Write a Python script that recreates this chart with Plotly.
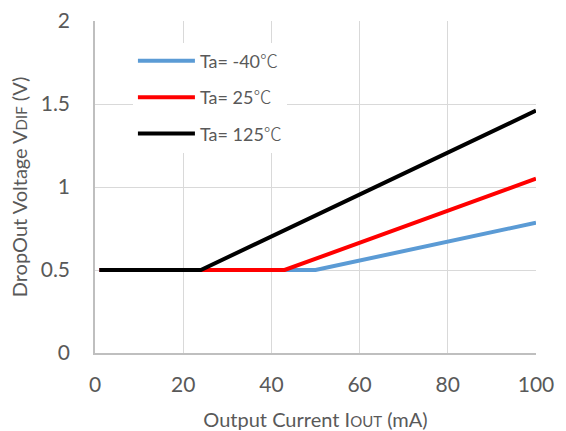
import plotly.graph_objects as go

# Dropout voltage vs. output current at three ambient temperatures
DEG_C = "<span style='font-family:Noto Sans CJK JP;font-weight:300'>℃</span>"

series_names = ["Ta= -40" + DEG_C, "Ta= 25" + DEG_C, "Ta= 125" + DEG_C]
current_m40 = [1, 50, 100]
current_25 = [1, 43, 100]
current_125 = [1, 24, 100]
dropout_m40 = [0.5, 0.5, 0.785]
dropout_25 = [0.5, 0.5, 1.05]
dropout_125 = [0.5, 0.5, 1.46]
line_colors = ["#5b9bd5", "#ff0000", "#000000"]

x_ticks = [0, 20, 40, 60, 80, 100]
y_ticks = [0, 0.5, 1, 1.5, 2]
y_tick_text = ["0", "0.5", "1", "1.5", "2"]

FONT = "Lato, 'Noto Sans CJK JP', sans-serif"
GRID = "#d9d9d9"
TEXT = "#595959"

fig = go.Figure()
for name, xs, ys, color in zip(
    series_names,
    [current_m40, current_25, current_125],
    [dropout_m40, dropout_25, dropout_125],
    line_colors,
):
    fig.add_trace(go.Scatter(
        x=xs, y=ys, mode="lines", name=name, legendgroup=name,
        line=dict(color=color, width=4),
    ))

fig.update_layout(
    width=566, height=431,
    margin=dict(l=94.5, r=30, t=21, b=78),
    paper_bgcolor="white", plot_bgcolor="white",
    font=dict(family=FONT, color=TEXT),
    legend=dict(
        x=0.086, y=0.935, xanchor="left", yanchor="top",
        bgcolor="white", font=dict(size=18, color=TEXT),
        itemwidth=57, tracegroupgap=10,
    ),
    xaxis=dict(
        range=[0, 100], tickvals=x_ticks, showgrid=True, gridcolor=GRID,
        showline=True, linecolor="#bfbfbf", linewidth=1.5, zeroline=False,
        tickfont=dict(size=21, color=TEXT), ticks="", ticklabelstandoff=12,
        automargin=False,
        title=dict(text="Output Current I<span style='font-size:15px'>OUT</span> (mA)",
                   font=dict(size=20, color=TEXT), standoff=18),
    ),
    yaxis=dict(
        range=[0, 2], tickvals=y_ticks, ticktext=y_tick_text, showgrid=True,
        gridcolor=GRID, showline=True, linecolor="#bfbfbf", linewidth=1.5,
        zeroline=False, tickfont=dict(size=21, color=TEXT), ticks="",
        ticklabelstandoff=19, automargin=False,
        title=dict(text="DropOut Voltage V<span style='font-size:15px'>DIF</span> (V)",
                   font=dict(size=20, color=TEXT), standoff=8),
    ),
)

fig.write_html("out.html")
